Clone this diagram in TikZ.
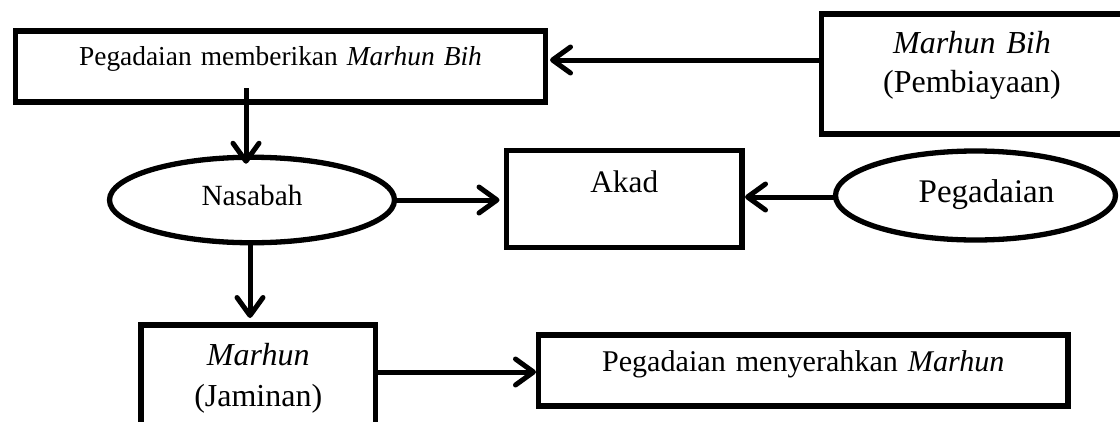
\documentclass[tikz,border=0pt]{standalone}
\usepackage{fontspec}
\setmainfont{Liberation Serif}
\usetikzlibrary{shapes.geometric,arrows.meta}
\begin{document}
\begin{tikzpicture}[x=1pt,y=-1pt,
  box/.style={draw, line width=5.5pt, rectangle, inner sep=0pt, outer sep=0pt, align=center, anchor=base},
  oval/.style={draw, line width=5.3pt, ellipse, inner sep=0pt, outer sep=0pt},
  arr/.style={line width=5pt, -{Straight Barb[length=18pt,width=26pt,line cap=round,line join=round]}},
]
\useasboundingbox (0,0) rectangle (1120,421);
\node[box, text width=530pt, text height=34pt, text depth=37pt, font=\fontsize{27.4}{33}\selectfont] (b1) at (280.5,65) {Pegadaian memberikan \textit{Marhun Bih}};
\node[box, text width=301pt, text height=39pt, text depth=81pt, font=\fontsize{32}{39}\selectfont] (mb) at (972,53) {\textit{Marhun Bih}\\(Pembiayaan)};
\node[box, text width=235.5pt, text height=41.5pt, text depth=55.5pt, font=\fontsize{31.3}{38}\selectfont] (akad) at (624.25,192) {Akad};
\node[oval, minimum width=285pt, minimum height=85.5pt, text height=20pt, text depth=10pt, font=\fontsize{29.3}{35}\selectfont] (nas) at (252,200) {Nasabah};
\node[oval, minimum width=280pt, minimum height=89pt, text height=22pt, text depth=7.6pt, font=\fontsize{33}{40}\selectfont] (peg) at (975.5,195.5) {\hspace*{22pt}Pegadaian};
\node[box, text width=234.5pt, text height=40pt, text depth=120pt, font=\fontsize{32}{41}\selectfont] (mar) at (258.25,365) {\textit{Marhun}\\(Jaminan)};
\node[box, text width=529.5pt, text height=36.7pt, text depth=34.3pt, font=\fontsize{30.1}{36}\selectfont] (men) at (803.25,371.7) {Pegadaian menyerahkan \textit{Marhun}};
\coordinate (c1) at (246,88);
\coordinate (x250) at (250,0);
\coordinate (y60) at (0,60);
\coordinate (y197) at (0,197);
\coordinate (y372) at (0,372);
\draw[arr, shorten >=-6.5pt] (c1) -- (c1 |- nas.north);
\draw[arr, shorten >=7pt] (nas.south -| x250) -- (mar.north -| x250);
\draw[arr, shorten >=7pt] (nas.east) -- (nas.east -| akad.west);
\draw[arr, shorten >=3pt] (peg.west |- y197) -- (akad.east |- y197);
\draw[arr, shorten >=4.5pt] (mb.west |- y60) -- (b1.east |- y60);
\draw[arr, shorten >=2.5pt] (mar.east |- y372) -- (men.west |- y372);
\end{tikzpicture}
\end{document}
